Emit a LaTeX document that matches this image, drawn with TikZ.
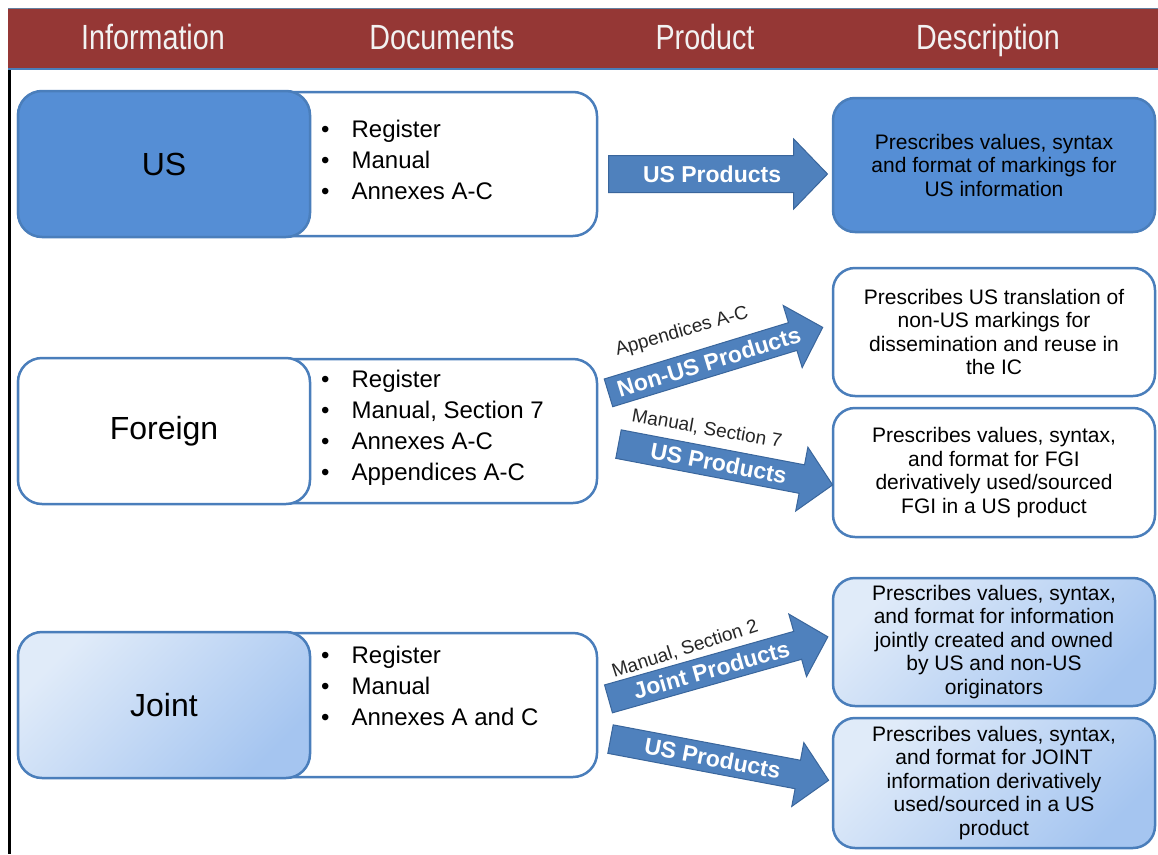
\documentclass[tikz,border=0pt]{standalone}
\usepackage{fontspec}
\setmainfont{Liberation Sans}
\newfontfamily\hdrfont[FakeStretch=0.82]{Liberation Sans}
\usetikzlibrary{shapes.arrows}
\definecolor{hdrred}{HTML}{953735}
\definecolor{bdr}{HTML}{4A7EBB}
\definecolor{usfill}{HTML}{558ED5}
\definecolor{jointA}{HTML}{E0EBF9}
\definecolor{jointB}{HTML}{A5C5F0}
\definecolor{arrfill}{HTML}{4F81BD}
\definecolor{arrdraw}{HTML}{3A669C}
\definecolor{hdrtext}{HTML}{F2F2F2}
\tikzset{
  hdr/.style={text=hdrtext, font=\hdrfont\fontsize{35}{35}\selectfont, inner sep=0, text height=25pt, text depth=7pt},
  docbox/.style={draw=bdr, line width=2.5pt, fill=white, rounded corners=24pt, minimum width=579pt, minimum height=144pt, inner sep=0},
  infobox/.style={draw=bdr, line width=2.5pt, rounded corners=24pt, minimum width=292pt, minimum height=146pt, font=\fontsize{32}{32}\selectfont},
  doclist/.style={anchor=west, inner sep=0, font=\fontsize{24}{31}\selectfont},
  descbox/.style={draw=bdr, line width=2.5pt, rounded corners=22pt, minimum width=322pt, align=center, inner sep=0, font=\fontsize{21}{23.5}\selectfont},
  jointshade/.style={top color=jointA, bottom color=jointB, shading angle=45},
  parrow/.style={shape=single arrow, fill=arrfill, draw=arrdraw, line width=1pt, text=white,
    font=\bfseries\fontsize{23}{23}\selectfont, text height=16.5pt, text depth=0.5pt,
    single arrow tip angle=92, anchor=tail, inner xsep=4pt},
  plabel/.style={font=\fontsize{19}{19}\selectfont, inner sep=0, text=black!85},
}
\newcommand{\blist}[1]{\begin{tabular}{@{}l@{\hspace{22pt}}l@{}}#1\end{tabular}}
\begin{document}
\begin{tikzpicture}[x=1pt,y=-1pt]
\useasboundingbox (0,0) rectangle (1158,854);
\fill[white] (0,0) rectangle (1158,854);
% header
\fill[hdrred] (8,9) rectangle (1158,68);
\draw[gray!50!bdr, line width=1.2pt] (8,8.6) -- (1158,8.6);
\draw[bdr, line width=2.5pt] (8,69) -- (1158,69);
\draw[black, line width=2.5pt] (9.5,70) -- (9.5,854);
\node[hdr] (h1) at (153,40) {Information};
\node[hdr] (h2) at (442,40) {Documents};
\node[hdr] (h3) at (705,40) {Product};
\node[hdr] (h4) at (988,40) {Description};

% Row US
\node[docbox] (usdocs) at (307.5,164) {};
\node[infobox, fill=usfill] (usinfo) at (164,164) {US};
\node[doclist] (uslist) at (321,162) {\blist{• & Register\\ • & Manual\\ • & Annexes A-C}};
\node[descbox, fill=usfill, minimum height=134pt] (usdesc) at (994,165)
  {Prescribes values, syntax\\ and format of markings for\\ US information};
\coordinate (usa) at (608,174);
\node[parrow, minimum height=219pt, inner ysep=9.5pt, single arrow head extend=16.5pt] (usarrow) at (usa) {\hspace{6pt}US Products};

% Row Foreign
\node[docbox] (fgdocs) at (307.5,431) {};
\node[infobox, fill=white] (fginfo) at (164,431) {Foreign};
\node[doclist] (fglist) at (321,428) {\blist{• & Register\\ • & Manual, Section 7\\ • & Annexes A-C\\ • & Appendices A-C}};
\node[descbox, fill=white, minimum height=128pt] (fgdescA) at (994,332)
  {Prescribes US translation of\\ non-US markings for\\ dissemination and reuse in\\ the IC};
\node[descbox, fill=white, minimum height=129pt] (fgdescB) at (994,472.5)
  {Prescribes values, syntax,\\ and format for FGI\\ derivatively used/sourced\\ FGI in a US product};
\coordinate (fga) at (608,393);
\node[parrow, rotate=17, minimum height=224pt, inner ysep=5.5pt, single arrow head extend=18pt] (fgarrowA) at (fga) {Non-US Products};
\node[plabel, rotate=16] (fglabA) at (682,332) {Appendices A-C};
\coordinate (fgb) at (618,444);
\node[parrow, rotate=-10.8, minimum height=218pt, inner ysep=5.5pt, single arrow head extend=18pt] (fgarrowB) at (fgb) {US Products};
\node[plabel, rotate=-10] (fglabB) at (707,429) {Manual, Section 7};

% Row Joint
\node[docbox] (jtdocs) at (307.5,705) {};
\node[infobox, jointshade] (jtinfo) at (164,705) {Joint};
\node[doclist] (jtlist) at (321,688) {\blist{• & Register\\ • & Manual\\ • & Annexes A and C}};
\node[descbox, jointshade, minimum height=128pt] (jtdescA) at (994,642)
  {Prescribes values, syntax,\\ and format for information\\ jointly created and owned\\ by US and non-US\\ originators};
\node[descbox, jointshade, minimum height=130pt] (jtdescB) at (994,783)
  {Prescribes values, syntax,\\ and format for JOINT\\ information derivatively\\ used/sourced in a US\\ product};
\coordinate (jta) at (608,699);
\node[parrow, rotate=15.8, minimum height=228pt, inner ysep=5.5pt, single arrow head extend=18pt] (jtarrowA) at (jta) {Joint Products};
\node[plabel, rotate=18] (jtlabA) at (685,649) {Manual, Section 2};
\coordinate (jtb) at (610,739);
\node[parrow, rotate=-10.7, minimum height=222pt, inner ysep=5.5pt, single arrow head extend=18pt] (jtarrowB) at (jtb) {US Products};
\end{tikzpicture}
\end{document}
